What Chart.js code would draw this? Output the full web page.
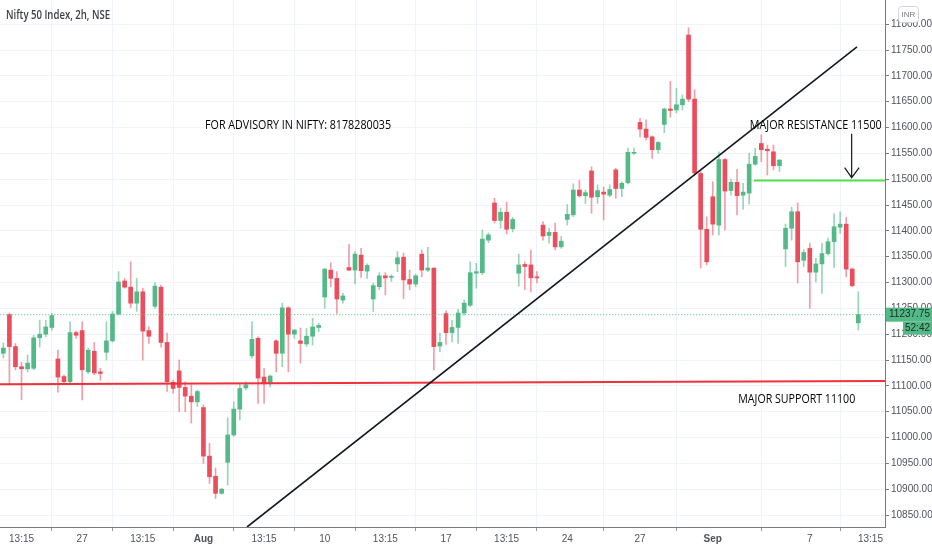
<!DOCTYPE html>
<html>
<head>
<meta charset="utf-8">
<title>Nifty 50 Index, 2h, NSE</title>
<script src="https://cdn.jsdelivr.net/npm/chart.js@4.4.0/dist/chart.umd.min.js"></script>
<style>
  html, body { margin: 0; padding: 0; background: #fff; }
  #wrap { position: relative; width: 932px; height: 550px; }
</style>
</head>
<body>
<div id="wrap"><canvas id="chart"></canvas></div>
<script>
// trading days shown (2h candles, 4 per session)
const days = ['Jul 21', 'Jul 22', 'Jul 23', 'Jul 24', 'Jul 27', 'Jul 28', 'Jul 29', 'Jul 30', 'Jul 31',
  'Aug 3', 'Aug 4', 'Aug 5', 'Aug 6', 'Aug 7', 'Aug 10', 'Aug 11', 'Aug 12', 'Aug 13', 'Aug 14',
  'Aug 17', 'Aug 18', 'Aug 19', 'Aug 20', 'Aug 21', 'Aug 24', 'Aug 25', 'Aug 26', 'Aug 27', 'Aug 28',
  'Aug 31', 'Sep 1', 'Sep 2', 'Sep 3', 'Sep 4', 'Sep 7', 'Sep 8', 'Sep 9'];
const sessions = ['09:15', '11:15', '13:15', '15:15'];

const opens = [11163, 11238, 11176, 11137, 11133, 11134, 11193, 11200, 11213, 11152,
  11118, 11108, 11203, 11207, 11127, 11167, 11127, 11165, 11187, 11239,
  11303, 11291, 11260, 11282, 11207, 11254, 11291, 11184, 11107, 11129,
  11097, 11080, 11069, 11058, 10964, 10925, 10892, 10952, 11005, 11055,
  11096, 11158, 11192, 11117, 11104, 11187, 11163, 11251, 11200, 11187,
  11181, 11196, 11213, 11272, 11324, 11308, 11266, 11329, 11324, 11353,
  11322, 11268, 11292, 11313, 11310, 11336, 11349, 11306, 11297, 11355,
  11324, 11328, 11177, 11240, 11203, 11213, 11241, 11256, 11318, 11319,
  11382, 11454, 11420, 11436, 11404, 11318, 11335, 11334, 11311, 11411,
  11391, 11397, 11369, 11422, 11431, 11479, 11468, 11516, 11466, 11475,
  11469, 11518, 11482, 11493, 11550, 11610, 11597, 11582, 11557, 11606,
  11636, 11634, 11644, 11779, 11655, 11511, 11403, 11466, 11411, 11538,
  11478, 11494, 11469, 11473, 11529, 11569, 11558, 11553, 11526, 11365,
  11405, 11437, 11343, 11366, 11320, 11336, 11356, 11379, 11407, 11413,
  11326, 11222];
const highs = [11183, 11241, 11182, 11146, 11160, 11198, 11227, 11227, 11240, 11169,
  11121, 11224, 11206, 11224, 11173, 11184, 11134, 11224, 11244, 11321,
  11308, 11340, 11308, 11289, 11214, 11300, 11295, 11202, 11111, 11150,
  11108, 11102, 11092, 11063, 10989, 10941, 10902, 11038, 11069, 11105,
  11108, 11224, 11195, 11134, 11121, 11189, 11260, 11253, 11209, 11212,
  11211, 11231, 11221, 11327, 11338, 11321, 11279, 11374, 11360, 11366,
  11336, 11299, 11319, 11319, 11315, 11360, 11357, 11324, 11316, 11363,
  11368, 11328, 11202, 11245, 11227, 11248, 11266, 11340, 11337, 11402,
  11396, 11463, 11444, 11456, 11426, 11355, 11340, 11363, 11321, 11418,
  11405, 11415, 11389, 11451, 11491, 11498, 11479, 11524, 11489, 11485,
  11489, 11521, 11495, 11560, 11560, 11618, 11615, 11584, 11573, 11637,
  11689, 11676, 11663, 11793, 11673, 11515, 11427, 11495, 11553, 11540,
  11500, 11519, 11492, 11550, 11560, 11586, 11566, 11566, 11538, 11413,
  11446, 11454, 11363, 11376, 11347, 11376, 11386, 11433, 11437, 11426,
  11328, 11282];
const lows = [11154, 11102, 11131, 11073, 11127, 11131, 11175, 11195, 11208, 11088,
  11105, 11106, 11192, 11073, 11124, 11121, 11111, 11150, 11185, 11237,
  11289, 11251, 11244, 11150, 11182, 11250, 11175, 11089, 11086, 11050,
  11050, 11028, 11060, 10950, 10911, 10882, 10890, 10908, 11002, 11034,
  11092, 11154, 11066, 11066, 11098, 11127, 11137, 11127, 11192, 11144,
  11176, 11179, 11205, 11250, 11292, 11240, 11260, 11323, 11298, 11310,
  11308, 11244, 11286, 11276, 11302, 11321, 11269, 11286, 11292, 11311,
  11321, 11131, 11166, 11180, 11185, 11182, 11237, 11253, 11289, 11315,
  11377, 11415, 11405, 11394, 11398, 11293, 11286, 11282, 11299, 11382,
  11376, 11363, 11366, 11411, 11427, 11465, 11453, 11434, 11453, 11421,
  11466, 11463, 11466, 11491, 11548, 11582, 11576, 11540, 11550, 11590,
  11620, 11628, 11634, 11650, 11508, 11328, 11334, 11392, 11392, 11402,
  11469, 11431, 11442, 11452, 11527, 11534, 11508, 11518, 11515, 11331,
  11382, 11299, 11331, 11250, 11301, 11279, 11353, 11329, 11395, 11311,
  11292, 11208];
const closes = [11173, 11176, 11137, 11133, 11144, 11193, 11200, 11214, 11236, 11117,
  11108, 11203, 11198, 11131, 11169, 11125, 11124, 11187, 11239, 11301,
  11291, 11260, 11282, 11206, 11196, 11293, 11184, 11108, 11095, 11097,
  11080, 11069, 11089, 10964, 10924, 10892, 10900, 11005, 11055, 11095,
  11102, 11190, 11115, 11104, 11119, 11163, 11251, 11200, 11208, 11182,
  11196, 11214, 11217, 11326, 11308, 11268, 11274, 11324, 11355, 11323,
  11333, 11294, 11313, 11309, 11312, 11348, 11305, 11297, 11313, 11324,
  11328, 11176, 11184, 11203, 11213, 11241, 11260, 11319, 11321, 11384,
  11392, 11420, 11436, 11403, 11422, 11334, 11331, 11309, 11309, 11390,
  11397, 11369, 11380, 11432, 11479, 11468, 11474, 11465, 11478, 11471,
  11480, 11482, 11492, 11552, 11552, 11597, 11581, 11557, 11571, 11636,
  11633, 11644, 11655, 11655, 11512, 11403, 11340, 11413, 11538, 11477,
  11494, 11468, 11475, 11529, 11544, 11557, 11555, 11526, 11537, 11405,
  11437, 11340, 11358, 11320, 11336, 11356, 11379, 11408, 11413, 11326,
  11294, 11238];
const lastPrice = 11237.75;

// tick labels
const xTickIndex = [3, 13, 23, 33, 43, 53, 63, 73, 83, 93, 105, 117, 133, 143];
const xTickText = ['13:15', '27', '13:15', 'Aug', '13:15', '10', '13:15', '17', '13:15', '24', '27', 'Sep', '7', '13:15'];
const yTicks = [10850, 10900, 10950, 11000, 11050, 11100, 11150, 11200, 11250, 11300, 11350, 11400,
  11450, 11500, 11550, 11600, 11650, 11700, 11750, 11800];

// drawn lines: [x0, y0, x1, y1] in candle index / price
const trendLine = [40.19, 10826.8, 140.78, 11756];
const supportLine = [-0.55, 11103, 145.4, 11109.4];
const resistanceLine = [123.8, 11497.5, 145.4, 11497.5];

const UP = '#53b987';
const DOWN = '#eb4d5c';

const times = days.flatMap(d => sessions.map(s => d + ' ' + s)).slice(3, 3 + opens.length);
const isUp = opens.map((o, i) => closes[i] >= o);

const seg = a => [{ x: a[0], y: a[1] }, { x: a[2], y: a[3] }];

const notes = [
  { text: 'FOR ADVISORY IN NIFTY: 8178280035', x: 33.26, y: 11604.5, w: 186 },
  { text: 'MAJOR RESISTANCE 11500', x: 123.1, y: 11604.5, w: 132 },
  { text: 'MAJOR SUPPORT 11100', x: 121.2, y: 11074, w: 117 }
];

const overlay = {
  id: 'overlay',
  afterDraw(chart) {
    const ctx = chart.ctx;
    const xs = chart.scales.x, ys = chart.scales.y;
    const area = chart.chartArea;
    ctx.save();

    // title
    ctx.fillStyle = '#3b3e48';
    ctx.font = "600 12.5px 'Open Sans', sans-serif";
    ctx.textBaseline = 'middle';
    ctx.textAlign = 'left';
    ctx.fillText('Nifty 50 Index, 2h, NSE', 6, 15, 104);

    // text notes
    ctx.fillStyle = '#000';
    ctx.font = "13px 'Open Sans', sans-serif";
    notes.forEach(n => {
      ctx.fillText(n.text, xs.getPixelForValue(n.x), ys.getPixelForValue(n.y), n.w);
    });

    // arrow to resistance
    const ax = xs.getPixelForValue(139.9);
    const ay0 = ys.getPixelForValue(11588);
    const ay1 = ys.getPixelForValue(11503);
    ctx.strokeStyle = '#131722';
    ctx.lineWidth = 1.2;
    ctx.beginPath();
    ctx.moveTo(ax, ay0);
    ctx.lineTo(ax, ay1);
    ctx.moveTo(ax - 7, ay1 - 10);
    ctx.lineTo(ax, ay1);
    ctx.lineTo(ax + 7.5, ay1 - 10);
    ctx.stroke();

    // last price label on the axis
    const py = ys.getPixelForValue(lastPrice);
    ctx.fillStyle = UP;
    ctx.fillRect(area.right + 1, py - 7, chart.width - area.right - 1, 14);
    ctx.fillRect(area.right + 18, py + 7, chart.width - area.right - 18, 13);
    ctx.fillStyle = '#1e2a24';
    ctx.font = "10px 'Liberation Sans', sans-serif";
    ctx.textAlign = 'center';
    ctx.fillText(lastPrice.toFixed(2), (area.right + chart.width) / 2 + 1, py, 44);
    ctx.fillText('52:42', (area.right + 18 + chart.width) / 2, py + 13.5);

    // currency badge
    ctx.fillStyle = '#fff';
    ctx.strokeStyle = '#d1d4dc';
    ctx.lineWidth = 1;
    ctx.beginPath();
    ctx.roundRect(898.5, 6.5, 20, 16, 3);
    ctx.fill();
    ctx.stroke();
    ctx.fillStyle = '#787b86';
    ctx.font = "8px 'Liberation Sans', sans-serif";
    ctx.fillText('INR', 908.5, 14.5);
    ctx.restore();
  }
};

const tickFont = "'Liberation Sans', sans-serif";

new Chart(document.getElementById('chart'), {
  type: 'bar',
  data: {
    datasets: [
      {
        label: 'Wick',
        data: times.map((t, i) => ({ x: i, y: [lows[i], highs[i]] })),
        backgroundColor: isUp.map(u => u ? 'rgba(83,185,135,0.6)' : 'rgba(235,77,92,0.55)'),
        barThickness: 1,
        grouped: false,
        order: 3
      },
      {
        label: 'Nifty 50',
        data: times.map((t, i) => ({ x: i, y: [opens[i], closes[i]] })),
        backgroundColor: isUp.map(u => u ? UP : DOWN),
        barThickness: 4,
        minBarLength: 1,
        grouped: false,
        order: 2
      },
      {
        type: 'line', label: 'Last', data: [{ x: -1, y: lastPrice }, { x: 146, y: lastPrice }],
        borderColor: UP, borderWidth: 1, borderDash: [1, 2], pointRadius: 0, order: 1
      },
      {
        type: 'line', label: 'Trend', data: seg(trendLine),
        borderColor: '#131722', borderWidth: 1.6, pointRadius: 0, order: 0
      },
      {
        type: 'line', label: 'Support', data: seg(supportLine),
        borderColor: '#f0303a', borderWidth: 2, pointRadius: 0, order: 0
      },
      {
        type: 'line', label: 'Resistance', data: seg(resistanceLine),
        borderColor: '#55e04b', borderWidth: 2, pointRadius: 0, order: 0
      }
    ]
  },
  options: {
    responsive: true,
    maintainAspectRatio: false,
    animation: false,
    layout: { padding: 0 },
    plugins: {
      legend: { display: false },
      title: { display: false },
      tooltip: { enabled: false }
    },
    scales: {
      x: {
        type: 'linear',
        min: -0.55,
        max: 145.4,
        offset: false,
        grid: { color: '#f0f3fa', tickColor: '#9598a1', tickLength: 4 },
        border: { color: '#787b86' },
        afterBuildTicks: s => { s.ticks = xTickIndex.map(v => ({ value: v })); },
        afterFit: s => { s.height = 23; s.paddingLeft = 0; s.paddingRight = 0; },
        ticks: {
          autoSkip: false,
          maxRotation: 0,
          padding: 2,
          color: '#50535e',
          font: c => ({
            family: tickFont, size: 10,
            weight: (c.tick && ['Aug', 'Sep'].includes(xTickText[xTickIndex.indexOf(c.tick.value)])) ? 'bold' : 'normal'
          }),
          callback: v => xTickText[xTickIndex.indexOf(v)]
        }
      },
      y: {
        type: 'linear',
        position: 'right',
        min: 10826.8,
        max: 11846.8,
        grid: { color: '#f0f3fa', tickColor: '#787b86', tickLength: 4 },
        border: { color: '#787b86' },
        afterBuildTicks: s => { s.ticks = yTicks.map(v => ({ value: v })); },
        afterFit: s => { s.width = 47; s.paddingTop = 0; s.paddingBottom = 0; },
        ticks: {
          padding: 2,
          color: '#50535e',
          font: { family: tickFont, size: 10 },
          callback: v => v.toFixed(2)
        }
      }
    }
  },
  plugins: [overlay]
});
</script>
</body>
</html>
